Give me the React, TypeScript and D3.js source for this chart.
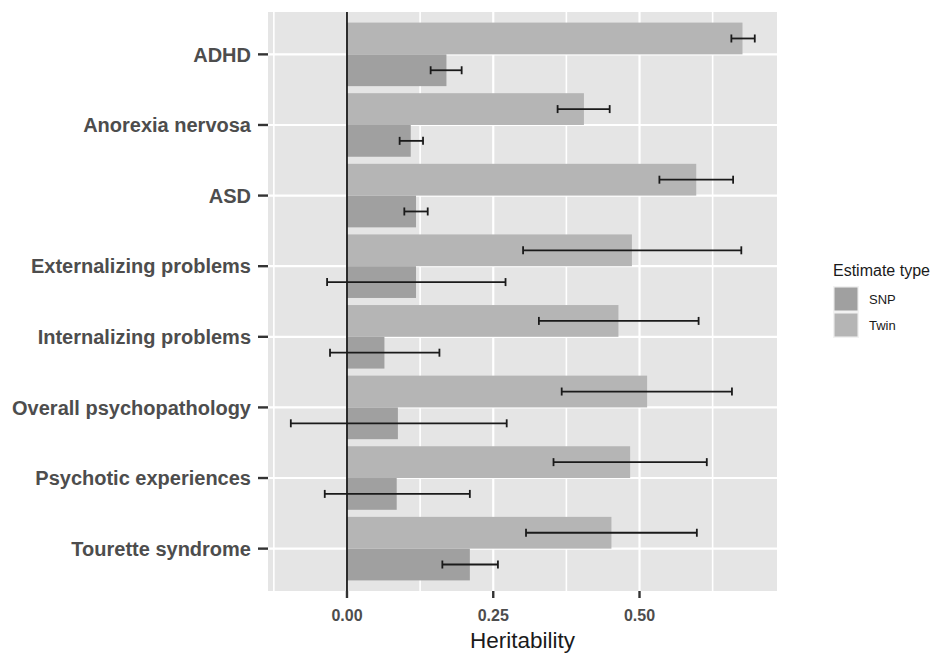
import React from "react";
import * as d3 from "d3";

const categories = [
  "ADHD",
  "Anorexia nervosa",
  "ASD",
  "Externalizing problems",
  "Internalizing problems",
  "Overall psychopathology",
  "Psychotic experiences",
  "Tourette syndrome",
];
const twinValue = [0.676, 0.405, 0.597, 0.487, 0.464, 0.513, 0.484, 0.452];
const twinLow = [0.657, 0.36, 0.534, 0.301, 0.328, 0.367, 0.353, 0.306];
const twinHigh = [0.697, 0.449, 0.66, 0.674, 0.601, 0.658, 0.615, 0.598];
const snpValue = [0.17, 0.109, 0.118, 0.118, 0.064, 0.087, 0.085, 0.21];
const snpLow = [0.143, 0.09, 0.098, -0.034, -0.029, -0.096, -0.038, 0.163];
const snpHigh = [0.196, 0.13, 0.138, 0.271, 0.158, 0.273, 0.21, 0.258];
const xTicks = [0, 0.25, 0.5];
const xMinor = [-0.125, 0.125, 0.375, 0.625];
const legendItems = ["SNP", "Twin"];

const W = 935;
const H = 654;
const panel = { left: 268, right: 777, top: 12, bottom: 591 };
const colors: Record<string, string> = { SNP: "#a0a0a0", Twin: "#b5b5b5" };
const font = "'Liberation Sans', Arial, Helvetica, sans-serif";

export default function App() {
  const x = d3.scaleLinear().domain([-0.135, 0.735]).range([panel.left, panel.right]);
  const y = d3
    .scaleBand<string>()
    .domain(categories)
    .range([panel.top, panel.bottom])
    .paddingInner(0)
    .paddingOuter(0.1);
  const step = y.step();
  const half = step * 0.45;
  const cap = 4;

  const rows = categories.map((c, i) => ({
    c,
    center: (y(c) as number) + y.bandwidth() / 2,
    twin: twinValue[i],
    tl: twinLow[i],
    th: twinHigh[i],
    snp: snpValue[i],
    sl: snpLow[i],
    sh: snpHigh[i],
  }));

  const errBar = (lo: number, hi: number, cy: number, key: string) => (
    <g key={key} stroke="#1a1a1a" strokeWidth={1.8}>
      <line x1={x(lo)} x2={x(hi)} y1={cy} y2={cy} />
      <line x1={x(lo)} x2={x(lo)} y1={cy - cap} y2={cy + cap} />
      <line x1={x(hi)} x2={x(hi)} y1={cy - cap} y2={cy + cap} />
    </g>
  );

  return (
    <svg width={W} height={H} style={{ position: "absolute", left: 0, top: 0, background: "#fff" }}>
      <rect x={0} y={0} width={W} height={H} fill="#fff" />
      <rect
        x={panel.left}
        y={panel.top}
        width={panel.right - panel.left}
        height={panel.bottom - panel.top}
        fill="#e5e5e5"
      />
      {xMinor.map((v) => (
        <line key={"mn" + v} x1={x(v)} x2={x(v)} y1={panel.top} y2={panel.bottom} stroke="#fff" strokeWidth={1.6} />
      ))}
      {xTicks.map((v) => (
        <line key={"mj" + v} x1={x(v)} x2={x(v)} y1={panel.top} y2={panel.bottom} stroke="#fff" strokeWidth={2.2} />
      ))}
      {rows.map((r) => (
        <line key={"hg" + r.c} x1={panel.left} x2={panel.right} y1={r.center} y2={r.center} stroke="#fff" strokeWidth={2.2} />
      ))}
      {rows.map((r) => (
        <g key={"bars" + r.c}>
          <rect x={x(0)} y={r.center - half} width={x(r.twin) - x(0)} height={half} fill={colors.Twin} />
          <rect x={x(0)} y={r.center} width={x(r.snp) - x(0)} height={half} fill={colors.SNP} />
        </g>
      ))}
      <line x1={x(0)} x2={x(0)} y1={panel.top} y2={panel.bottom} stroke="#1a1a1a" strokeWidth={1.8} />
      {rows.map((r) => (
        <g key={"err" + r.c}>
          {errBar(r.tl, r.th, r.center - half / 2, "t")}
          {errBar(r.sl, r.sh, r.center + half / 2, "s")}
        </g>
      ))}
      {rows.map((r) => (
        <g key={"yl" + r.c}>
          <line x1={panel.left - 10} x2={panel.left} y1={r.center} y2={r.center} stroke="#333" strokeWidth={2.4} />
          <text
            x={panel.left - 17}
            y={r.center}
            dy="0.36em"
            textAnchor="end"
            fontFamily={font}
            fontWeight="bold"
            fontSize={20}
            fill="#4d4d4d"
          >
            {r.c}
          </text>
        </g>
      ))}
      {xTicks.map((v) => (
        <g key={"xt" + v}>
          <line x1={x(v)} x2={x(v)} y1={panel.bottom} y2={panel.bottom + 7} stroke="#333" strokeWidth={2.4} />
          <text
            x={x(v)}
            y={621}
            textAnchor="middle"
            fontFamily={font}
            fontWeight="bold"
            fontSize={16}
            fill="#4d4d4d"
          >
            {d3.format(".2f")(v)}
          </text>
        </g>
      ))}
      <text
        x={(panel.left + panel.right) / 2}
        y={648}
        textAnchor="middle"
        fontFamily={font}
        fontSize={22.5}
        fill="#1a1a1a"
      >
        Heritability
      </text>
      <g>
        <text x={833} y={276} fontFamily={font} fontSize={16} fill="#1a1a1a">
          Estimate type
        </text>
        {legendItems.map((k, i) => (
          <g key={"lg" + k}>
            <rect x={833} y={286 + i * 26} width={26} height={26} fill="#f2f2f2" />
            <rect x={834.5} y={287.5 + i * 26} width={23} height={23} fill={colors[k]} />
            <text x={869} y={299 + i * 26} dy="0.35em" fontFamily={font} fontSize={13} fill="#1a1a1a">
              {k}
            </text>
          </g>
        ))}
      </g>
    </svg>
  );
}
